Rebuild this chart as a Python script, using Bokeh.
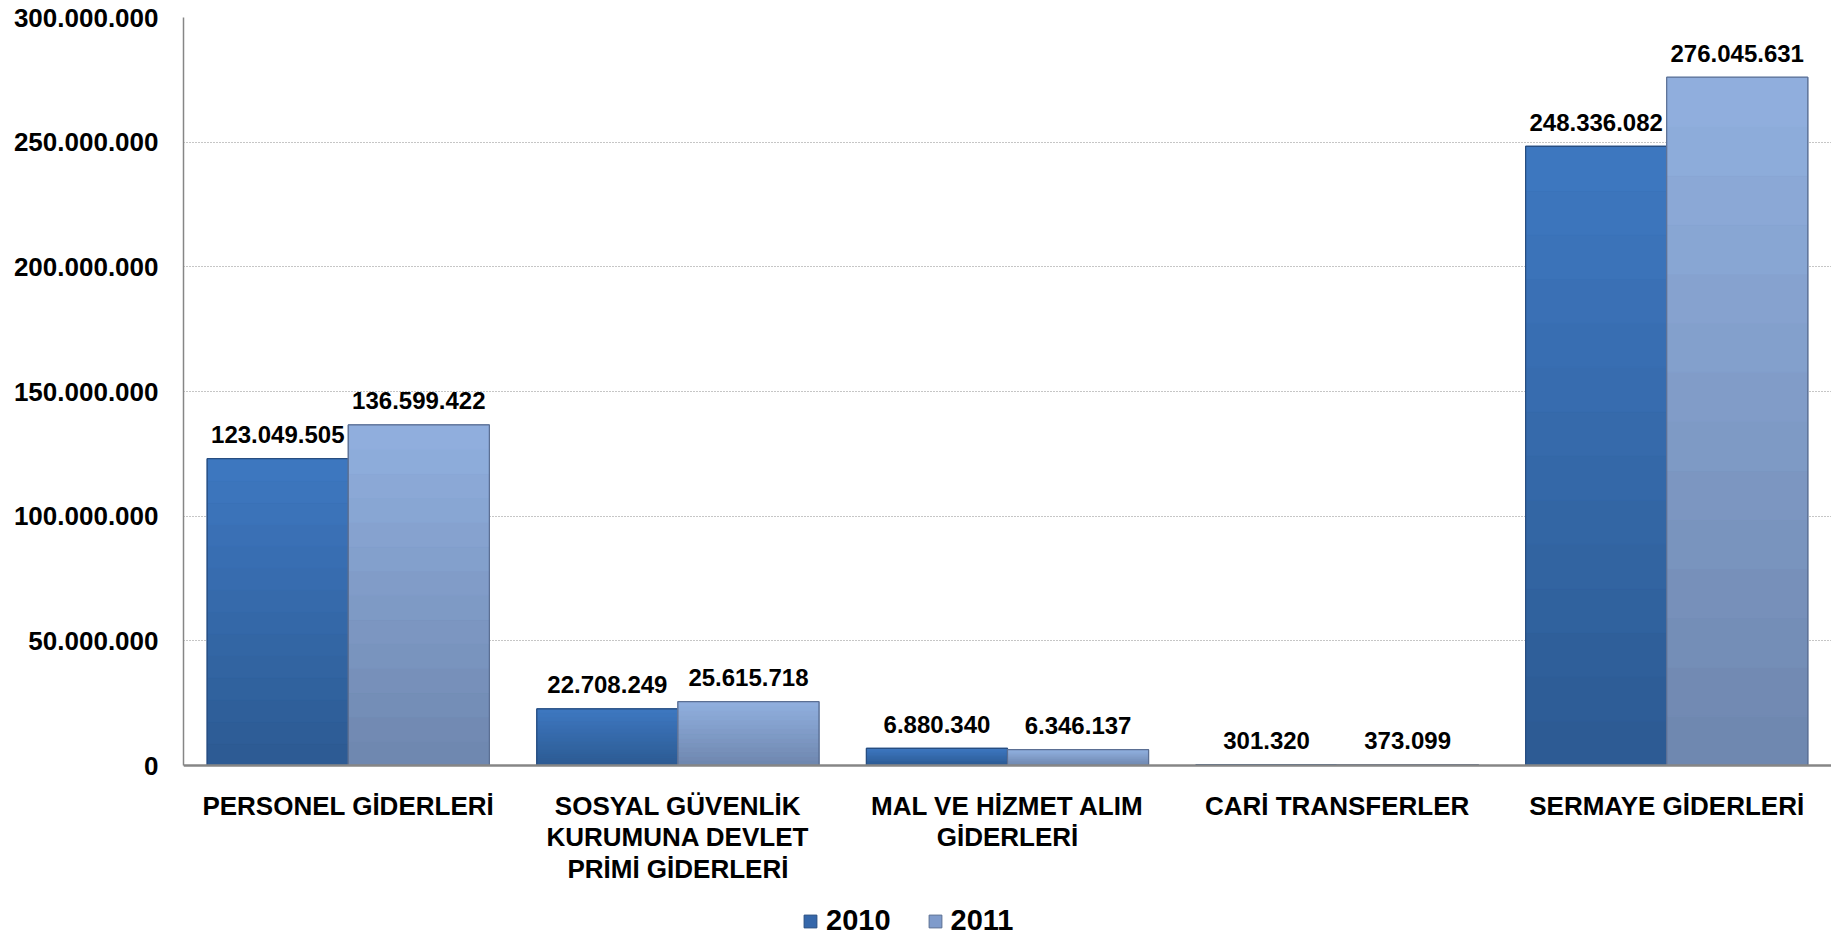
from bokeh.plotting import figure
from bokeh.models import (ColumnDataSource, FactorRange, Range1d, FixedTicker,
                          Legend, LegendItem, Span)
from bokeh.transform import dodge
from bokeh.core.properties import value
from bokeh.embed import file_html
from bokeh.resources import INLINE

# ---------------- data ----------------
categories = ["PERSONEL GİDERLERİ",
              "SOSYAL GÜVENLİK KURUMUNA DEVLET PRİMİ GİDERLERİ",
              "MAL VE HİZMET ALIM GİDERLERİ",
              "CARİ TRANSFERLER",
              "SERMAYE GİDERLERİ"]
category_labels = ["PERSONEL GİDERLERİ",
                   "SOSYAL GÜVENLİK\nKURUMUNA DEVLET\nPRİMİ GİDERLERİ",
                   "MAL VE HİZMET ALIM\nGİDERLERİ",
                   "CARİ TRANSFERLER",
                   "SERMAYE GİDERLERİ"]
series_names = ["2010", "2011"]
values_2010 = [123049505, 22708249, 6880340, 301320, 248336082]
values_2011 = [136599422, 25615718, 6346137, 373099, 276045631]
y_ticks = [0, 50000000, 100000000, 150000000, 200000000, 250000000, 300000000]
Y_MAX = 300000000


def fmt(v):
    return f"{v:,}".replace(",", ".")


FONT = value("Liberation Sans")

# layout (pixels): top gridline 17px from top, zero line at 765px
FIG_W = 1831
FIG_H = 938
TOP = 17
ZERO_Y = 765
LEFT = 183
y_min = -Y_MAX * (FIG_H - ZERO_Y) / (ZERO_Y - TOP)

p = figure(width=FIG_W, height=FIG_H, output_backend="svg", toolbar_location=None,
           x_range=FactorRange(factors=categories, range_padding=0),
           y_range=Range1d(y_min, Y_MAX),
           x_axis_location=None,
           min_border_left=LEFT, min_border_right=0, min_border_top=TOP,
           min_border_bottom=0)
p.outline_line_color = None
p.background_fill_color = "white"
p.border_fill_color = "white"

# grid
p.xgrid.grid_line_color = None
p.ygrid.ticker = FixedTicker(ticks=y_ticks)
p.ygrid.grid_line_color = "#8c8c8c"
p.ygrid.grid_line_dash = "1 2"
p.ygrid.grid_line_width = 1

# y axis
p.yaxis.ticker = FixedTicker(ticks=y_ticks)
p.yaxis.bounds = (0, Y_MAX)
p.yaxis.major_label_overrides = {t: fmt(t) for t in y_ticks}
p.yaxis.major_label_text_font = "Liberation Sans"
p.yaxis.major_label_text_font_style = "bold"
p.yaxis.major_label_text_font_size = "26px"
p.yaxis.major_label_text_color = "black"
p.yaxis.major_label_standoff = 19
p.yaxis.major_tick_line_color = None
p.yaxis.minor_tick_line_color = None
p.yaxis.axis_line_color = "#868686"
p.yaxis.axis_line_width = 1.5

# ---------------- bars ----------------
BAR_W = 0.428
offsets = [-0.214, 0.214]
top_colors = [(62, 120, 193), (145, 176, 223)]
bottom_colors = [(44, 90, 146), (110, 134, 174)]
mid_colors = ["#3567aa", "#7f9bcb"]
edge_colors = ["#274d80", "#5b6f93"]
N_BANDS = 14

legend_items = []
for si, (name, vals) in enumerate(zip(series_names, [values_2010, values_2011])):
    xd = dodge("cat", offsets[si], range=p.x_range)
    src = ColumnDataSource(dict(cat=categories, val=vals, lab=[fmt(v) for v in vals]))
    solid = p.vbar(x=xd, top="val", bottom=0, width=BAR_W, source=src,
                   fill_color=mid_colors[si], line_color=edge_colors[si], line_width=1)
    # vertical gradient bands
    bc, bb, bt, bcol = [], [], [], []
    for c, v in zip(categories, vals):
        for k in range(N_BANDS):
            f = (k + 0.5) / N_BANDS
            col = tuple(int(round(bottom_colors[si][j] + (top_colors[si][j] - bottom_colors[si][j]) * f)) for j in range(3))
            bc.append(c)
            bb.append(v * k / N_BANDS)
            bt.append(v * (k + 1) / N_BANDS)
            bcol.append("#%02x%02x%02x" % col)
    bsrc = ColumnDataSource(dict(cat=bc, b=bb, t=bt, col=bcol))
    p.vbar(x=xd, top="t", bottom="b", width=BAR_W, source=bsrc,
           fill_color="col", line_color="col", line_width=0.8)
    # outline
    p.vbar(x=xd, top="val", bottom=0, width=BAR_W, source=src,
           fill_alpha=0, line_color=edge_colors[si], line_width=1.2)
    # data labels
    p.text(x=xd, y="val", text="lab", source=src, text_font=FONT,
           text_font_style="bold", text_font_size="24px", text_color="black",
           text_align="center", text_baseline="alphabetic", y_offset=-24)
    legend_items.append(LegendItem(label=name, renderers=[solid]))

# category axis line at zero and category labels below it
p.add_layout(Span(location=0, dimension="width", line_color="#868686", line_width=2.5))
csrc = ColumnDataSource(dict(cat=categories, lab=category_labels))
p.text(x="cat", y=0, text="lab", source=csrc, text_font=FONT,
       text_font_style="bold", text_font_size="26px", text_color="black",
       text_align="center", text_baseline="top", text_line_height=1.06,
       y_offset=25)

legend = Legend(items=legend_items, orientation="horizontal",
                location=(619, 1),
                label_text_font="Liberation Sans", label_text_font_style="bold",
                label_text_font_size="29px", label_text_color="black",
                glyph_width=16, glyph_height=16, label_standoff=8, spacing=36,
                padding=0, margin=0,
                border_line_color=None, background_fill_alpha=0)
p.add_layout(legend, "center")

open("out.html", "w").write(file_html(p, INLINE))
